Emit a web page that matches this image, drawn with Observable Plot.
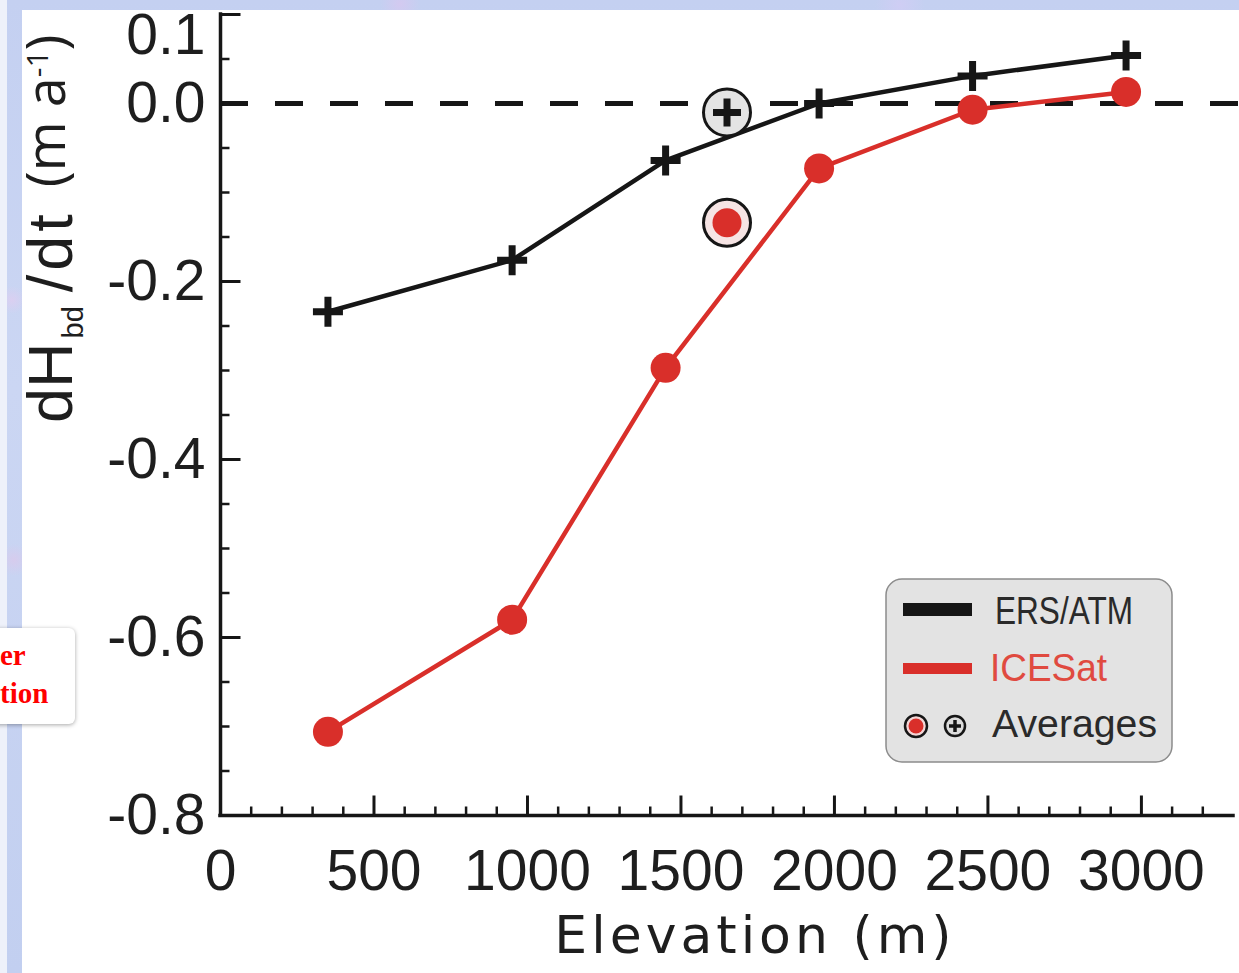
<!DOCTYPE html>
<html>
<head>
<meta charset="utf-8">
<script src="https://cdn.jsdelivr.net/npm/d3@7"></script>
<script src="https://cdn.jsdelivr.net/npm/@observablehq/plot@0.6"></script>
<style>
  html, body { margin: 0; padding: 0; }
  body {
    width: 1239px; height: 973px; overflow: hidden; position: relative;
    background:
      radial-gradient(circle at 12px 300px, rgba(225,205,240,0.7) 0, rgba(225,205,240,0) 14px),
      radial-gradient(circle at 14px 560px, rgba(220,200,235,0.7) 0, rgba(220,200,235,0) 16px),
      radial-gradient(circle at 400px 4px, rgba(215,200,240,0.8) 0, rgba(215,200,240,0) 20px),
      radial-gradient(circle at 900px 5px, rgba(210,205,245,0.8) 0, rgba(210,205,245,0) 25px),
      linear-gradient(180deg, #c4d0f1 0%, #cbd6f3 40%, #c2cff0 100%);
  }
  #pale { position: absolute; left: 0; top: 0; width: 7px; height: 973px; background: #eef1fa; }
  #paper { position: absolute; left: 22px; top: 10px; width: 1217px; height: 963px; background: #fff; }
  #chart { position: absolute; left: 0; top: 0; }
  #note {
    position: absolute; left: -8px; top: 628px; width: 83px; height: 96px;
    background: #fff; border-radius: 6px; box-shadow: 0 1px 4px rgba(0,0,0,0.35);
  }
  #note span {
    position: absolute; left: 8px; font: bold 29px "Liberation Serif", "DejaVu Serif", serif;
    line-height: 29px; color: #ff0000; white-space: nowrap;
  }
</style>
</head>
<body>
<div id="pale"></div>
<div id="paper"></div>
<div id="chart"></div>
<div id="note"><span style="top:13px">er</span><span style="top:51px">tion</span></div>
<script>
// ---- data ----
const elevation = [350, 950, 1450, 1950, 2450, 2950];
const ersAtm = [-0.234, -0.176, -0.064, 0.0, 0.031, 0.054];
const iceSat = [-0.706, -0.580, -0.297, -0.073, -0.007, 0.013];
const averageElevation = [1650];
const ersAtmAverage = [-0.010];
const iceSatAverage = [-0.134];

const xTickValues = [0, 500, 1000, 1500, 2000, 2500, 3000];
const xTickLabels = ["0", "500", "1000", "1500", "2000", "2500", "3000"];
const xMinorValues = [100,200,300,400,600,700,800,900,1100,1200,1300,1400,1600,1700,1800,1900,2100,2200,2300,2400,2600,2700,2800,2900,3100,3200];
const yTickValues = [0.1, 0.0, -0.2, -0.4, -0.6, -0.8];
const yTickLabels = ["0.1", "0.0", "-0.2", "-0.4", "-0.6", "-0.8"];
const yMinorValues = [0.05, -0.05, -0.1, -0.15, -0.25, -0.3, -0.35, -0.45, -0.5, -0.55, -0.65, -0.7, -0.75];

const seriesNames = ["ERS/ATM", "ICESat", "Averages"];
const xTitle = "Elevation (m)";

// ---- derived tables ----
const ersRows = elevation.map((e, i) => ({e, v: ersAtm[i]}));
const iceRows = elevation.map((e, i) => ({e, v: iceSat[i]}));
const ersAvgRows = averageElevation.map((e, i) => ({e, v: ersAtmAverage[i]}));
const iceAvgRows = averageElevation.map((e, i) => ({e, v: iceSatAverage[i]}));
const xTicks = xTickValues.map((v, i) => ({v, label: xTickLabels[i]}));
const yTicks = yTickValues.map((v, i) => ({v, label: yTickLabels[i]}));

const INK = "#161616";
const RED = "#d92f2a";
const plus = {draw(ctx, size) {
  const h = Math.sqrt(size / Math.PI);
  ctx.moveTo(-h, 0); ctx.lineTo(h, 0);
  ctx.moveTo(0, -h); ctx.lineTo(0, h);
}};
const tickShape = {draw(ctx, l) { ctx.moveTo(0, 0); ctx.lineTo(0, -l); }};
const tickFont = "'Liberation Sans', Arial, sans-serif";

const plot = Plot.plot({
  width: 1239, height: 973,
  marginLeft: 220, marginRight: 6, marginTop: 14, marginBottom: 158,
  x: {domain: [0, 3300], axis: null},
  y: {domain: [-0.8, 0.1], axis: null},
  style: {background: "transparent", overflow: "visible"},
  marks: [
    // zero reference (runs to the right edge of the picture)
    Plot.ruleY([0], {x1: 0, x2: 3320, stroke: INK, strokeWidth: 5, strokeDasharray: "28,27"}),
    // axes frame
    Plot.ruleX([0], {y1: -0.8, y2: 0.1, stroke: INK, strokeWidth: 3.5, strokeLinecap: "square"}),
    Plot.ruleY([-0.8], {x1: 0, x2: 3300, stroke: INK, strokeWidth: 3.5, strokeLinecap: "square"}),
    // inward ticks
    Plot.vector(xTickValues, {x: d => d, y: -0.8, length: 20, rotate: 0, anchor: "start", shape: tickShape, stroke: INK, strokeWidth: 3, strokeLinecap: "butt"}),
    Plot.vector(xMinorValues, {x: d => d, y: -0.8, length: 9, rotate: 0, anchor: "start", shape: tickShape, stroke: INK, strokeWidth: 2.5, strokeLinecap: "butt"}),
    Plot.vector(yTickValues, {x: 0, y: d => d, length: 20, rotate: 90, anchor: "start", shape: tickShape, stroke: INK, strokeWidth: 3, strokeLinecap: "butt"}),
    Plot.vector(yMinorValues, {x: 0, y: d => d, length: 9, rotate: 90, anchor: "start", shape: tickShape, stroke: INK, strokeWidth: 2.5, strokeLinecap: "butt"}),
    // tick labels
    Plot.text(xTicks, {x: "v", y: -0.8, text: "label", dy: 56, fontSize: 57, fontFamily: tickFont, fill: "#1e1e1e", lineAnchor: "middle"}),
    Plot.text(yTicks.filter(d => d.v < 0.1), {x: 0, y: "v", text: "label", dx: -15, textAnchor: "end", fontSize: 57, fontFamily: tickFont, fill: "#1e1e1e", lineAnchor: "middle"}),
    Plot.text(yTicks.filter(d => d.v >= 0.1), {x: 0, y: "v", text: "label", dx: -15, dy: 21, textAnchor: "end", fontSize: 57, fontFamily: tickFont, fill: "#1e1e1e", lineAnchor: "middle"}),
    // series
    Plot.line(ersRows, {x: "e", y: "v", stroke: INK, strokeWidth: 4.5}),
    Plot.line(iceRows, {x: "e", y: "v", stroke: RED, strokeWidth: 4.5}),
    Plot.dot(ersRows, {x: "e", y: "v", symbol: plus, r: 15, stroke: INK, strokeWidth: 7, fill: "none"}),
    Plot.dot(iceRows, {x: "e", y: "v", r: 15, fill: RED, stroke: "none"}),
    // averages
    Plot.dot(ersAvgRows, {x: "e", y: "v", r: 23.5, fill: "#e4e4e4", stroke: INK, strokeWidth: 3}),
    Plot.dot(ersAvgRows, {x: "e", y: "v", symbol: plus, r: 14, stroke: INK, strokeWidth: 7, fill: "none"}),
    Plot.dot(iceAvgRows, {x: "e", y: "v", r: 23.5, fill: "#f6e4e4", stroke: INK, strokeWidth: 3}),
    Plot.dot(iceAvgRows, {x: "e", y: "v", r: 14.5, fill: RED, stroke: "none"})
  ]
});

const svg = d3.select(plot);

// x axis title
svg.append("text")
  .attr("x", 755).attr("y", 953)
  .attr("text-anchor", "middle")
  .attr("font-family", "'DejaVu Sans', sans-serif")
  .attr("font-size", 52).attr("letter-spacing", 4)
  .attr("fill", "#1e1e1e")
  .text(xTitle);

// y axis title: dH_bd/dt  (m a^-1)
const yt = svg.append("text")
  .attr("transform", "translate(72,423) rotate(-90)")
  .attr("text-anchor", "start")
  .attr("font-family", tickFont).attr("font-size", 63).attr("fill", "#1e1e1e");
yt.append("tspan").text("dH");
yt.append("tspan").attr("font-size", 29).attr("dx", 4).attr("dy", 11).text("bd");
yt.append("tspan").attr("dx", 14).attr("dy", -11).attr("letter-spacing", 4).text("/dt");
yt.append("tspan").attr("font-family", "'Open Sans', sans-serif").attr("letter-spacing", 0).attr("font-size", 54).attr("dx", 23).attr("dy", -7).text("(m a");
yt.append("tspan").attr("font-family", "'Open Sans', sans-serif").attr("font-size", 30).attr("dy", -17).text("-1");
yt.append("tspan").attr("font-family", "'Open Sans', sans-serif").attr("font-size", 54).attr("dy", 17).text(")");

// legend
const lg = svg.append("g").attr("text-anchor", "start");
const legendFont = "'Liberation Sans Narrow', 'Arial Narrow', 'Liberation Sans', sans-serif";
lg.append("rect").attr("x", 886).attr("y", 579).attr("width", 286).attr("height", 183)
  .attr("rx", 16).attr("fill", "#e3e3e3").attr("stroke", "#8c8c8c").attr("stroke-width", 1.5);
lg.append("rect").attr("x", 903).attr("y", 603).attr("width", 69).attr("height", 13).attr("fill", INK);
lg.append("rect").attr("x", 903).attr("y", 663).attr("width", 69).attr("height", 11).attr("fill", RED);
lg.append("circle").attr("cx", 916).attr("cy", 726).attr("r", 11).attr("fill", "#f3d6d6").attr("stroke", INK).attr("stroke-width", 2.5);
lg.append("circle").attr("cx", 916).attr("cy", 726).attr("r", 7.5).attr("fill", RED);
lg.append("circle").attr("cx", 955).attr("cy", 726).attr("r", 10).attr("fill", "#dcdcdc").attr("stroke", INK).attr("stroke-width", 2.5);
lg.append("path").attr("d", "M949,726H961M955,720V732").attr("stroke", INK).attr("stroke-width", 3.5);
const legendText = [
  {t: seriesNames[0], x: 995, y: 624, w: 138, fill: "#2a2a2a"},
  {t: seriesNames[1], x: 990, y: 681, w: 117, fill: "#e04a40"},
  {t: seriesNames[2], x: 992, y: 737, w: 165, fill: "#2a2a2a"}
];
for (const d of legendText) {
  lg.append("text").attr("x", d.x).attr("y", d.y)
    .attr("text-anchor", "start")
    .attr("font-family", legendFont).attr("font-size", 38)
    .attr("textLength", d.w).attr("lengthAdjust", "spacingAndGlyphs")
    .attr("fill", d.fill).text(d.t);
}

document.getElementById("chart").appendChild(plot);
</script>
</body>
</html>
